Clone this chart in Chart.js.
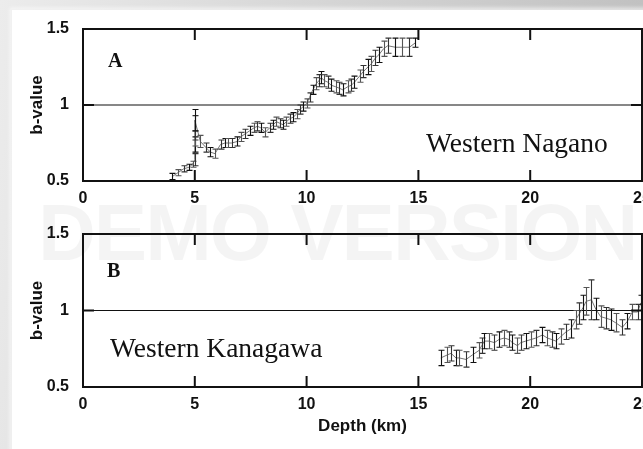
<!DOCTYPE html>
<html>
<head>
<meta charset="utf-8">
<script src="https://cdn.jsdelivr.net/npm/chart.js@4.4.1/dist/chart.umd.min.js"></script>
<style>
  html, body { margin: 0; padding: 0; }
  body {
    width: 643px; height: 449px; overflow: hidden; position: relative;
    background: linear-gradient(100deg, #ececec 0%, #dadada 35%, #bcbcbc 100%);
  }
  #sheet {
    position: absolute; left: 12px; top: 10px; width: 700px; height: 500px;
    background: #fff; box-shadow: 0 0 4px 2px rgba(255,255,255,0.7), 0 0 2px rgba(0,0,0,0.12);
  }
  #watermark {
    position: absolute; left: 38px; top: 193px; font: bold 80px "Liberation Sans", Arial, sans-serif;
    line-height: 1; letter-spacing: -2px; color: rgba(0,0,0,0.042); white-space: nowrap;
  }
  canvas { position: absolute; left: 0; }
  #chartA { top: 0; }
  #chartB { top: 205px; }
  .tag { position: absolute; font-family: "Liberation Serif", "Times New Roman", serif; line-height: 1; color: #111; white-space: nowrap; }
  .panel { font-weight: bold; font-size: 20px; }
  .site { font-size: 27.5px; }
</style>
</head>
<body>
<div id="sheet"></div>
<div id="watermark">DEMO VERSION</div>
<canvas id="chartA" width="720" height="215"></canvas>
<canvas id="chartB" width="720" height="244"></canvas>
<div class="tag panel" style="left:108px; top:50px;">A</div>
<div class="tag site" style="left:426px; top:129px;">Western Nagano</div>
<div class="tag panel" style="left:107px; top:260px;">B</div>
<div class="tag site" style="left:110px; top:334px;">Western Kanagawa</div>
<script>
document.addEventListener("DOMContentLoaded", function () {
  // Western Nagano (panel A)
  const depthA = [4.0, 4.25, 4.5, 4.73, 4.9, 5.0, 5.0, 5.0, 5.0, 5.0, 5.25, 5.5, 5.7, 5.9, 6.15, 6.35, 6.5, 6.65,
    6.9, 7.05, 7.25, 7.45, 7.65, 7.8, 7.95, 8.15, 8.35, 8.5, 8.65, 8.8, 8.95, 9.1, 9.25, 9.4, 9.55, 9.7, 9.85,
    10.0, 10.13, 10.28, 10.43, 10.55, 10.65, 10.8, 10.95, 11.1, 11.3, 11.47, 11.62, 11.84, 12.0, 12.14, 12.37,
    12.54, 12.74, 12.89, 13.08, 13.23, 13.44, 13.63, 13.97, 14.27, 14.6, 14.87];
  const bValueA = [0.53, 0.555, 0.58, 0.59, 0.61, 0.64, 0.74, 0.78, 0.85, 0.9, 0.76, 0.72, 0.69, 0.68, 0.74, 0.75, 0.75, 0.75,
    0.76, 0.79, 0.81, 0.83, 0.85, 0.86, 0.85, 0.82, 0.85, 0.87, 0.89, 0.88, 0.87, 0.89, 0.91, 0.92, 0.94, 0.97, 0.99,
    1.01, 1.05, 1.1, 1.14, 1.16, 1.18, 1.16, 1.15, 1.13, 1.12, 1.11, 1.1, 1.12, 1.13, 1.15, 1.19,
    1.22, 1.25, 1.27, 1.31, 1.33, 1.37, 1.39, 1.38, 1.38, 1.38, 1.41];
  const errorA = [0.02, 0.02, 0.02, 0.02, 0.02, 0.04, 0.05, 0.05, 0.08, 0.07, 0.04, 0.03, 0.03, 0.03, 0.03, 0.03, 0.03, 0.03,
    0.03, 0.03, 0.03, 0.03, 0.03, 0.03, 0.03, 0.03, 0.03, 0.03, 0.03, 0.03, 0.03, 0.03, 0.03, 0.03, 0.03, 0.03, 0.03,
    0.03, 0.03, 0.03, 0.04, 0.04, 0.04, 0.04, 0.04, 0.04, 0.04, 0.04, 0.04, 0.04, 0.04, 0.04, 0.04,
    0.04, 0.05, 0.05, 0.05, 0.05, 0.05, 0.05, 0.06, 0.06, 0.06, 0.03];

  // Western Kanagawa (panel B)
  const depthB = [16.0, 16.3, 16.46, 16.68, 16.83, 17.13, 17.42, 17.72, 17.83, 17.95, 18.17, 18.4, 18.6, 18.84,
    19.06, 19.2, 19.43, 19.58, 19.8, 20.03, 20.25, 20.55, 20.77, 20.97, 21.15, 21.37, 21.6, 21.82, 22.04, 22.2,
    22.37, 22.5, 22.74, 22.93, 23.15, 23.38, 23.6, 23.82, 24.12, 24.35, 24.57, 24.8, 24.95];
  const bValueB = [0.69, 0.71, 0.72, 0.69, 0.69, 0.68, 0.71, 0.74, 0.77, 0.8, 0.8, 0.79, 0.81, 0.82,
    0.81, 0.79, 0.77, 0.79, 0.8, 0.81, 0.82, 0.84, 0.82, 0.81, 0.8, 0.83, 0.86, 0.88, 0.94, 0.98,
    1.02, 1.06, 1.07, 1.01, 0.96, 0.95, 0.94, 0.92, 0.89, 0.93, 0.99, 0.99, 1.05];
  const errorB = [0.05, 0.05, 0.05, 0.05, 0.05, 0.05, 0.05, 0.05, 0.05, 0.05, 0.05, 0.05, 0.05, 0.05,
    0.05, 0.05, 0.05, 0.05, 0.05, 0.05, 0.05, 0.05, 0.05, 0.05, 0.05, 0.05, 0.05, 0.06, 0.06, 0.07,
    0.08, 0.09, 0.13, 0.07, 0.07, 0.07, 0.07, 0.06, 0.05, 0.05, 0.05, 0.05, 0.05];

  const depthTicks = [0, 5, 10, 15, 20, 25];
  const bTicks = [0.5, 1, 1.5];

  const tickFont = { family: "'Liberation Sans', Arial, sans-serif", size: 16, weight: "bold" };
  const titleFont = { family: "'Liberation Sans', Arial, sans-serif", size: 17, weight: "bold" };

  // error bars, frame, inward ticks and the b = 1 line
  const framePlugin = {
    id: "frame",
    beforeDatasetsDraw(chart) {
      const { ctx, chartArea: a, scales: { y } } = chart;
      ctx.save();
      ctx.strokeStyle = "#111";
      ctx.lineWidth = 1.2;
      const y1 = y.getPixelForValue(1);
      ctx.beginPath();
      ctx.moveTo(a.left, y1);
      ctx.lineTo(a.right, y1);
      ctx.stroke();
      ctx.restore();
    },
    afterDatasetsDraw(chart) {
      const { ctx, chartArea: a, scales: { x, y } } = chart;
      const ds = chart.data.datasets[0];
      ctx.save();
      ctx.beginPath();
      ctx.rect(a.left, a.top, a.right - a.left, a.bottom - a.top);
      ctx.clip();
      ds.data.forEach((p, i) => {
        const e = ds.errorBars[i];
        const px = Math.round(x.getPixelForValue(p.x)) + 0.5;
        const top = y.getPixelForValue(p.y + e);
        const bot = y.getPixelForValue(p.y - e);
        ctx.strokeStyle = i % 3 === 0 ? "#111" : (i % 3 === 1 ? "#555" : "#333");
        ctx.lineWidth = 1.1;
        ctx.beginPath();
        ctx.moveTo(px, top); ctx.lineTo(px, bot);
        ctx.moveTo(px - 3, top); ctx.lineTo(px + 3, top);
        ctx.moveTo(px - 3, bot); ctx.lineTo(px + 3, bot);
        ctx.stroke();
      });
      ctx.restore();

      ctx.save();
      ctx.strokeStyle = "#111";
      ctx.lineWidth = 2;
      ctx.strokeRect(a.left, a.top, a.right - a.left, a.bottom - a.top);
      depthTicks.forEach((v) => {
        if (v <= x.min || v >= x.max) return;
        const px = x.getPixelForValue(v);
        ctx.beginPath();
        ctx.moveTo(px, a.top); ctx.lineTo(px, a.top + 11);
        ctx.moveTo(px, a.bottom); ctx.lineTo(px, a.bottom - 11);
        ctx.stroke();
      });
      const y1 = y.getPixelForValue(1);
      ctx.beginPath();
      ctx.moveTo(a.left, y1); ctx.lineTo(a.left + 11, y1);
      ctx.moveTo(a.right, y1); ctx.lineTo(a.right - 11, y1);
      ctx.stroke();
      ctx.restore();
    },
  };

  function makePanel(canvasId, depth, bValue, errors, showXTitle) {
    const points = depth.map((d, i) => ({ x: d, y: bValue[i] }));
    const xHeight = showXTitle ? 62 : 34;
    return new Chart(document.getElementById(canvasId).getContext("2d"), {
      type: "line",
      data: {
        datasets: [{
          data: points,
          errorBars: errors,
          borderColor: "#666",
          borderWidth: 0.9,
          pointRadius: 0,
          tension: 0,
        }],
      },
      options: {
        responsive: false,
        animation: false,
        devicePixelRatio: 1,
        layout: { padding: { left: 0, top: 29, right: 78, bottom: 0 } },
        plugins: { legend: { display: false }, tooltip: { enabled: false } },
        scales: {
          x: {
            type: "linear",
            min: 0,
            max: 25,
            afterBuildTicks: (s) => { s.ticks = depthTicks.map((v) => ({ value: v })); },
            afterFit: (s) => { s.height = xHeight; },
            grid: { display: false },
            border: { display: false },
            ticks: { color: "#111", font: tickFont, padding: 0, maxRotation: 0, callback: (v) => String(v) },
            title: {
              display: showXTitle,
              text: "Depth (km)",
              color: "#111",
              font: titleFont,
              padding: { top: 0, bottom: 12 },
            },
          },
          y: {
            type: "linear",
            min: 0.5,
            max: 1.5,
            afterBuildTicks: (s) => { s.ticks = bTicks.map((v) => ({ value: v })); },
            afterFit: (s) => { s.width = 83; },
            grid: { display: false },
            border: { display: false },
            ticks: { color: "#111", font: tickFont, padding: 6, callback: (v) => String(v) },
            title: {
              display: true,
              text: "b-value",
              color: "#111",
              font: titleFont,
              padding: { top: 27, bottom: 0 },
            },
          },
        },
      },
      plugins: [framePlugin],
    });
  }

  makePanel("chartA", depthA, bValueA, errorA, false);
  makePanel("chartB", depthB, bValueB, errorB, true);
});
</script>
</body>
</html>
